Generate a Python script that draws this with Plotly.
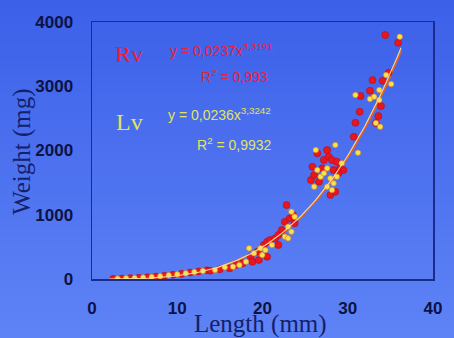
import plotly.graph_objects as go

# ---------------- data ----------------
rv_length = [2.5, 3.5, 4.5, 5.5, 6.5, 7.5, 8.5, 9.5, 10.5, 11.5, 12.5, 13.5,
             13.86, 15.0, 16.15, 16.91, 17.68, 18.63, 18.82, 19.39, 19.58, 20.15, 20.54,
             20.91, 21.49, 21.86, 22.25, 22.63, 23.2, 23.58, 22.82, 23.77, 20.54, 21.86,
             25.68, 25.86, 26.06, 26.43, 26.63, 27.0, 27.2, 27.58, 27.77, 27.97, 28.15,
             28.34, 28.54, 28.72, 29.11, 29.49, 28.91,
             30.7, 30.9, 31.4, 31.5, 32.6, 32.9, 33.3, 33.6, 33.9, 34.1, 34.8, 35.9, 34.4]
rv_weight = [3, 8, 14, 20, 28, 38, 52, 66, 80, 100, 118, 135,
             129, 151, 166, 218, 244, 347, 269, 425, 296, 529, 580,
             607, 633, 685, 762, 892, 944, 996, 1151, 867, 347, 529,
             1540, 1747, 1618, 1956, 1514, 1722, 1852, 2007, 1903, 1307, 1852,
             1696, 1358, 1825, 1722, 1696, 1645,
             2214, 2432, 2603, 2848, 2930, 3096, 2427, 2536, 2692, 3086, 3210, 3677, 3797]

lv_length = [3.0, 4.0, 5.0, 6.0, 7.0, 8.0, 9.0, 10.0, 11.0, 12.0, 13.0,
             14.43, 15.58, 16.54, 17.29, 18.06, 18.43, 19.0, 19.77, 19.97, 20.34, 21.11,
             22.63, 23.0, 23.39, 23.39, 23.0, 23.77,
             26.25, 26.06, 26.43, 26.82, 27.58, 27.58, 28.15, 28.34, 28.54, 29.29, 27.2, 28.72, 27.97,
             30.9, 31.2, 32.6, 33.1, 33.3, 33.7, 33.7, 33.8, 34.5, 35.1, 36.1]
lv_weight = [5, 10, 15, 22, 30, 42, 58, 72, 88, 108, 125,
             140, 182, 191, 218, 269, 478, 400, 478, 373, 451, 529,
             658, 633, 736, 1047, 814, 970,
             2007, 1436, 1696, 1592, 1722, 1436, 1385, 1489, 2085, 1800, 1645, 1592, 1567,
             2863, 1965, 2801, 2837, 2427, 2941, 2785, 2370, 3174, 3034, 3770]

# power-law trend lines shown on the chart
rv_a, rv_b = 0.0237, 3.3191
lv_a, lv_b = 0.0236, 3.3242
trend_x = [2 + 0.25 * i for i in range(138)]  # 2 .. 36.25

x_ticks = [0, 10, 20, 30, 40]
y_ticks = [0, 1000, 2000, 3000, 4000]

# ---------------- figure ----------------
fig = go.Figure()

fig.add_trace(go.Scatter(
    x=trend_x, y=[rv_a * v ** rv_b for v in trend_x], mode="lines",
    line=dict(color="#e4602a", width=2.2), hoverinfo="skip", showlegend=False))
fig.add_trace(go.Scatter(
    x=rv_length, y=rv_weight, mode="markers",
    marker=dict(color="#e8161e", size=7, line=dict(color="#b80a18", width=0.6)),
    showlegend=False, name="Rv"))
fig.add_trace(go.Scatter(
    x=lv_length, y=lv_weight, mode="markers",
    marker=dict(color="#f6e24a", size=5.5, line=dict(color="#e07a28", width=0.6)),
    showlegend=False, name="Lv"))
fig.add_trace(go.Scatter(
    x=trend_x, y=[lv_a * v ** lv_b for v in trend_x], mode="lines",
    line=dict(color="#f4dc98", width=1.1), hoverinfo="skip", showlegend=False))

# background gradient bands (top darker, bottom lighter)
top = (0x3c, 0x60, 0xe8)
bot = (0x5e, 0x83, 0xf6)
n = 40
W, H = 454, 338
L, R, T, B = 92, 12, 22, 59
pw, ph = W - L - R, H - T - B
shapes = []
for i in range(n):
    f = i / (n - 1)
    c = tuple(round(top[k] + (bot[k] - top[k]) * f) for k in range(3))
    y0px = H * i / n
    y1px = H * (i + 1) / n + 1
    shapes.append(dict(
        type="rect", xref="paper", yref="paper", layer="below",
        x0=-L / pw - 0.05, x1=1 + R / pw + 0.05,
        y0=(H - B - y1px) / ph, y1=(H - B - y0px) / ph,
        line=dict(width=0), fillcolor="rgb(%d,%d,%d)" % c))

serif = "Liberation Serif, Times New Roman, serif"
sans = "Liberation Sans, Arial, sans-serif"
red_txt = "#e8203c"
yel_txt = "#e2e45a"

ann = [
    dict(text="Rv", x=(130 - L) / pw, y=(H - B - 54) / ph, font=dict(family=serif, size=24, color=red_txt)),
    dict(text="y = 0,0237x<sup>3,3191</sup>", x=(170 - L) / pw, y=(H - B - 50) / ph, xanchor="left",
         font=dict(family=sans, size=14, color=red_txt)),
    dict(text="R<sup>2</sup> = 0,993", x=(238 - L) / pw, y=(H - B - 76) / ph,
         font=dict(family=sans, size=14, color=red_txt)),
    dict(text="Lv", x=(130 - L) / pw, y=(H - B - 122) / ph, font=dict(family=serif, size=24, color=yel_txt)),
    dict(text="y = 0,0236x<sup>3,3242</sup>", x=(168 - L) / pw, y=(H - B - 114) / ph, xanchor="left",
         font=dict(family=sans, size=14, color=yel_txt)),
    dict(text="R<sup>2</sup> = 0,9932", x=(238 - L) / pw, y=(H - B - 144) / ph,
         font=dict(family=sans, size=14, color=yel_txt)),
    dict(text="Weight (mg)", x=(20 - L) / pw, y=(H - B - 152) / ph, textangle=-90,
         font=dict(family=serif, size=25, color="#14206a")),
    dict(text="Length (mm)", x=(265 - L) / pw, y=(H - B - 324) / ph,
         font=dict(family=serif, size=25, color="#14206a")),
]
for a in ann:
    a.update(xref="paper", yref="paper", showarrow=False)
    a.setdefault("xanchor", "center")
    a.setdefault("yanchor", "middle")

fig.update_layout(
    width=W, height=H,
    margin=dict(l=L, r=R, t=T, b=B),
    paper_bgcolor="#4c70ee",
    plot_bgcolor="rgba(0,0,0,0)",
    shapes=shapes,
    annotations=ann,
    xaxis=dict(range=[0, 40], tickvals=x_ticks, ticktext=[str(v) for v in x_ticks],
               showgrid=False, zeroline=False, showline=True, mirror=True,
               linecolor="#1c2c8c", linewidth=1.5,
               ticks="outside", ticklen=13, tickcolor="rgba(0,0,0,0)",
               tickfont=dict(family=sans, size=17, color="#0c1244"),
               fixedrange=True),
    yaxis=dict(range=[0, 4000], tickvals=y_ticks, ticktext=[str(v) for v in y_ticks],
               showgrid=False, zeroline=False, showline=True, mirror=True,
               linecolor="#1c2c8c", linewidth=1.5,
               ticks="outside", ticklen=14, tickcolor="rgba(0,0,0,0)",
               tickfont=dict(family=sans, size=17, color="#0c1244"),
               fixedrange=True),
)
fig.update_xaxes(tickfont_weight="bold")
fig.update_yaxes(tickfont_weight="bold")

fig.write_html("out.html",
               config={"displayModeBar": False, "staticPlot": True},
               post_script="document.body.style.margin='0';document.body.style.padding='0';"
                           "document.documentElement.style.overflow='hidden';")
